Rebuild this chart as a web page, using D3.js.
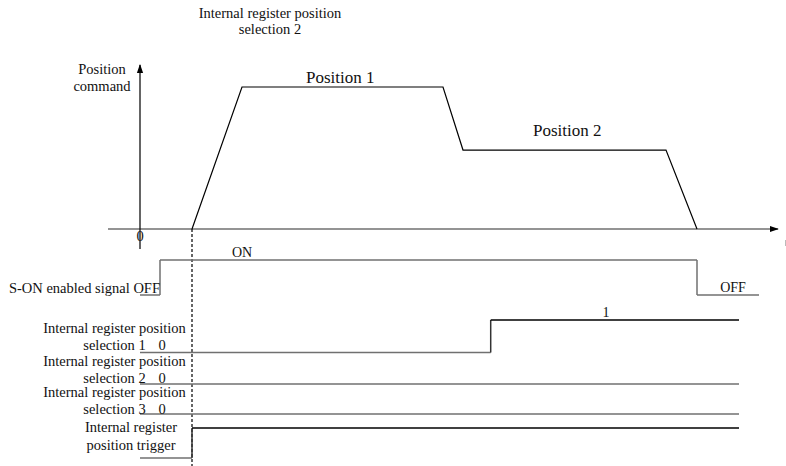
<!DOCTYPE html>
<html>
<head>
<meta charset="utf-8">
<script src="https://cdn.jsdelivr.net/npm/d3@7"></script>
<style>
  html, body { margin: 0; padding: 0; background: #fff; }
</style>
</head>
<body>
<svg id="chart" width="786" height="466" font-family="'Liberation Serif', 'DejaVu Serif', serif"></svg>
<script>
// ---- data ----
// position command profile: time (arbitrary units) vs command level (% of Position 1)
const profileTimes  = [5.2, 10.2, 30.3, 32.3, 52.6, 55.7];
const profileValues = [0, 100, 100, 55.6, 55.6, 0];
const profileLabels = ["Position 1", "Position 2"];

// digital signals: step times and levels (0/1)
const signalNames = [
  ["S-ON enabled signal"],
  ["Internal register position", "selection 1"],
  ["Internal register position", "selection 2"],
  ["Internal register position", "selection 3"],
  ["Internal register", "position trigger"]
];
const sonTimes   = [0, 2.0, 55.7, 61.9];
const sonLevels  = [0, 1, 0, 0];
const sel1Times  = [0, 35.07, 59.9];
const sel1Levels = [0, 1, 1];
const sel2Times  = [0, 59.9];
const sel2Levels = [0, 0];
const sel3Times  = [0, 59.9];
const sel3Levels = [0, 0];
const trigTimes  = [0, 5.2, 59.9];
const trigLevels = [0, 1, 1];
const levelLabels = { son: ["OFF", "ON", "OFF"], sel1: ["0", "1"], sel2: ["0"], sel3: ["0"] };
const triggerTime = 5.2;
const titleLines = ["Internal register position", "selection 2"];
const yAxisLabel = ["Position", "command"];

// ---- layout ----
const FONT = "'Liberation Serif', 'DejaVu Serif', serif";
const svg = d3.select("#chart");
const x = d3.scaleLinear().domain([-3.2, 63.8]).range([108, 778]);
const y = d3.scaleLinear().domain([0, 100]).range([229, 87]);
const grey = "#707070";
const txt = (sel) => sel.attr("font-family", FONT).attr("fill", "#111");

// arrow marker
svg.append("defs").append("marker")
  .attr("id", "arr").attr("viewBox", "0 0 10 10").attr("refX", 9).attr("refY", 5)
  .attr("markerWidth", 9).attr("markerHeight", 9).attr("markerUnits", "userSpaceOnUse")
  .attr("orient", "auto")
  .append("path").attr("d", "M0,1.5 L10,5 L0,8.5 Z").attr("fill", "#000");

// axes
svg.append("line").attr("x1", x(-3.2)).attr("x2", x(63.8)).attr("y1", y(0)).attr("y2", y(0))
  .attr("stroke", grey).attr("stroke-width", 1.6).attr("marker-end", "url(#arr)");
svg.append("line").attr("x1", x(0)).attr("x2", x(0)).attr("y1", 249).attr("y2", y(115.5))
  .attr("stroke", "#111").attr("stroke-width", 1.3).attr("marker-end", "url(#arr)");
txt(svg.append("text")).attr("x", x(0)).attr("y", 241).attr("text-anchor", "middle")
  .attr("font-size", 14.5).text("0");
svg.append("line").attr("x1", 785.5).attr("x2", 785.5).attr("y1", 240).attr("y2", 246)
  .attr("stroke", "#bbb").attr("stroke-width", 1);

// axis label
txt(svg.append("text")).attr("text-anchor", "middle").attr("font-size", 14.5)
  .selectAll("tspan").data(yAxisLabel).join("tspan")
  .attr("x", 102).attr("y", (d, i) => 74 + i * 17).text(d => d);

// title
txt(svg.append("text")).attr("text-anchor", "middle").attr("font-size", 14.5)
  .selectAll("tspan").data(titleLines).join("tspan")
  .attr("x", 270).attr("y", (d, i) => 18 + i * 16).text(d => d);

// profile
const prof = profileTimes.map((t, i) => [t, profileValues[i]]);
svg.append("path").datum(prof)
  .attr("d", d3.line().x(d => x(d[0])).y(d => y(d[1])))
  .attr("fill", "none").attr("stroke", "#000").attr("stroke-width", 1.2);
txt(svg.append("text")).attr("x", x(16.6)).attr("y", y(100) - 4)
  .attr("font-size", 17).text(profileLabels[0]);
txt(svg.append("text")).attr("x", x(39.3)).attr("y", y(55.6) - 14)
  .attr("font-size", 17).text(profileLabels[1]);

// trigger dashed line
svg.append("line").attr("x1", x(triggerTime)).attr("x2", x(triggerTime)).attr("y1", y(0)).attr("y2", 466)
  .attr("stroke", "#000").attr("stroke-width", 1.2).attr("stroke-dasharray", "3,2");

// signals: each row has low/high y
const rows = [
  { key: "son",  t: sonTimes,  v: sonLevels,  low: 295, high: 260, lowColor: grey, highColor: grey },
  { key: "sel1", t: sel1Times, v: sel1Levels, low: 352.5, high: 320, lowColor: grey, highColor: "#000" },
  { key: "sel2", t: sel2Times, v: sel2Levels, low: 384, high: 354, lowColor: grey, highColor: "#000" },
  { key: "sel3", t: sel3Times, v: sel3Levels, low: 414, high: 384, lowColor: grey, highColor: "#000" },
  { key: "trig", t: trigTimes, v: trigLevels, low: 458, high: 428, lowColor: grey, highColor: "#000" }
];
rows.forEach(r => {
  const ys = lv => lv ? r.high : r.low;
  for (let i = 0; i < r.t.length - 1; i++) {
    const lv = r.v[i];
    const col = lv ? r.highColor : r.lowColor;
    svg.append("line").attr("x1", x(r.t[i])).attr("x2", x(r.t[i + 1]))
      .attr("y1", ys(lv)).attr("y2", ys(lv)).attr("stroke", col).attr("stroke-width", 1.5);
    if (r.v[i + 1] !== lv) {
      svg.append("line").attr("x1", x(r.t[i + 1])).attr("x2", x(r.t[i + 1]))
        .attr("y1", ys(lv)).attr("y2", ys(r.v[i + 1]))
        .attr("stroke", r.key === "son" ? grey : "#333").attr("stroke-width", 1.5);
    }
  }
});

// signal labels
txt(svg.append("text")).attr("x", 160).attr("y", 293).attr("text-anchor", "end")
  .attr("font-size", 14.5).text(signalNames[0][0] + " OFF");
txt(svg.append("text")).attr("x", 242).attr("y", 257).attr("text-anchor", "middle")
  .attr("font-size", 14).text(levelLabels.son[1]);
txt(svg.append("text")).attr("x", 733).attr("y", 292).attr("text-anchor", "middle")
  .attr("font-size", 14).text(levelLabels.son[2]);
txt(svg.append("text")).attr("x", 606).attr("y", 317).attr("text-anchor", "middle")
  .attr("font-size", 14).text(levelLabels.sel1[1]);

const selBase = [333, 366, 397];
[1, 2, 3].forEach((k, i) => {
  const t = txt(svg.append("text")).attr("text-anchor", "middle").attr("font-size", 14.5);
  t.append("tspan").attr("x", 114.5).attr("y", selBase[i]).text(signalNames[k][0]);
  t.append("tspan").attr("x", 114.5).attr("y", selBase[i] + 16.5).text(signalNames[k][1]);
  txt(svg.append("text")).attr("x", 162).attr("y", selBase[i] + 16.5).attr("text-anchor", "middle")
    .attr("font-size", 14.5).text(levelLabels["sel" + k][0]);
});
const tr = txt(svg.append("text")).attr("text-anchor", "middle").attr("font-size", 14.5);
tr.append("tspan").attr("x", 131).attr("y", 432).text(signalNames[4][0]);
tr.append("tspan").attr("x", 131).attr("y", 450).text(signalNames[4][1]);
</script>
</body>
</html>
